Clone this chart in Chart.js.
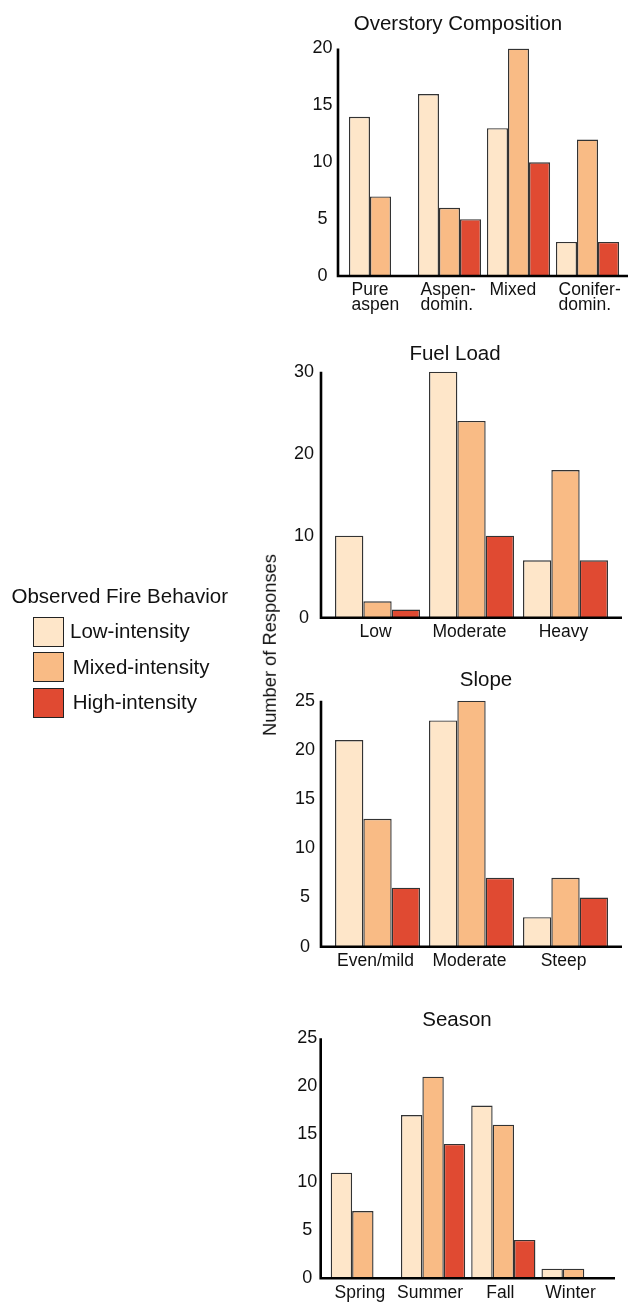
<!DOCTYPE html>
<html>
<head>
<meta charset="utf-8">
<script src="https://cdn.jsdelivr.net/npm/chart.js@4.4.1/dist/chart.umd.min.js"></script>
<style>
  html, body { margin: 0; padding: 0; background: #fff; }
  body {
    width: 628px; height: 1302px; position: relative; overflow: hidden;
    font-family: "Liberation Sans", Arial, Helvetica, sans-serif; color: #111;
  }
  .panel { position: absolute; left: 0; width: 628px; }
  .panel canvas { display: block; }
  .txt { position: absolute; white-space: nowrap; line-height: 1; }
  .swatch { position: absolute; width: 31px; height: 30px; box-sizing: border-box; border: 1.6px solid #222; }
  #ytitle { font-size: 18.3px; line-height: 18.3px; transform: translate(-50%, -50%) rotate(-90deg); }
</style>
</head>
<body>
<div class="panel" id="p1"><canvas id="overstoryChart"></canvas></div>
<div class="panel" id="p2"><canvas id="fuelChart"></canvas></div>
<div class="panel" id="p3"><canvas id="slopeChart"></canvas></div>
<div class="panel" id="p4"><canvas id="seasonChart"></canvas></div>
<div id="legend"></div>
<div class="txt" id="ytitle" style="left:270px; top:645px;">Number of Responses</div>

<script>
// 系列（観察された火災の挙動）
const seriesNames = ["Low-intensity", "Mixed-intensity", "High-intensity"];
const seriesColors = ["#FEE6C9", "#F9BB85", "#E04A32"];

// 上層木の構成
const overstoryLabels = [["Pure", "aspen"], ["Aspen-", "domin."], "Mixed", ["Conifer-", "domin."]];
const overstoryLow = [14, 16, 13, 3];
const overstoryMixed = [7, 6, 20, 12];
const overstoryHigh = [null, 5, 10, 3];
const overstoryTicks = [0, 5, 10, 15, 20];

// 燃料量
const fuelLabels = ["Low", "Moderate", "Heavy"];
const fuelLow = [10, 30, 7];
const fuelMixed = [2, 24, 18];
const fuelHigh = [1, 10, 7];
const fuelTicks = [0, 10, 20, 30];

// 傾斜
const slopeLabels = ["Even/mild", "Moderate", "Steep"];
const slopeLow = [21, 23, 3];
const slopeMixed = [13, 25, 7];
const slopeHigh = [6, 7, 5];
const slopeTicks = [0, 5, 10, 15, 20, 25];

// 季節
const seasonLabels = ["Spring", "Summer", "Fall", "Winter"];
const seasonLow = [11, 17, 18, 1];
const seasonMixed = [7, 21, 16, 1];
const seasonHigh = [null, 14, 4, null];
const seasonTicks = [0, 5, 10, 15, 20, 25];

const FONT = '"Liberation Sans", Arial, Helvetica, sans-serif';
Chart.defaults.font.family = FONT;
Chart.defaults.color = "#111";

// タイトルと軸線（軸線はプロット領域より少し左に出す）
const panelDecor = {
  id: "panelDecor",
  afterDraw(chart, args, opts) {
    const { ctx, chartArea } = chart;
    ctx.save();
    ctx.fillStyle = "#111";
    ctx.font = "20.5px " + FONT;
    ctx.textAlign = "center";
    ctx.textBaseline = "middle";
    ctx.fillText(opts.title, opts.titleX, opts.titleY);

    ctx.strokeStyle = "#000";
    ctx.lineWidth = 2.6;
    ctx.lineJoin = "miter";
    ctx.beginPath();
    ctx.moveTo(opts.axisX, chartArea.top);
    ctx.lineTo(opts.axisX, chartArea.bottom);
    ctx.lineTo(opts.axisRight, chartArea.bottom);
    ctx.stroke();
    ctx.restore();
  },
};

const Y_WIDTH = 40;

function drawPanel(id, title, labels, low, mixed, high, ticks, box) {
  const canvas = document.getElementById(id);
  canvas.parentNode.style.top = box.top + "px";
  canvas.width = 628;
  canvas.height = box.height;
  const values = [low, mixed, high];

  new Chart(canvas, {
    type: "bar",
    data: {
      labels: labels,
      datasets: seriesNames.map((name, i) => ({
        label: name,
        data: values[i],
        backgroundColor: seriesColors[i],
        borderColor: "#333",
        borderWidth: 1.4,
        borderSkipped: "start",
        categoryPercentage: box.catPct,
        barPercentage: 1,
      })),
    },
    options: {
      responsive: false,
      animation: false,
      events: [],
      layout: {
        padding: {
          top: box.plotTop,
          bottom: 0,
          left: box.plotLeft - Y_WIDTH,
          right: 628 - box.plotRight,
        },
      },
      plugins: {
        legend: { display: false },
        tooltip: { enabled: false },
        panelDecor: {
          title: title,
          titleX: box.titleX,
          titleY: box.titleY,
          axisX: box.axisX,
          axisRight: box.axisRight,
        },
      },
      scales: {
        x: {
          grid: { display: false, drawTicks: false },
          border: { display: false },
          ticks: {
            font: { size: 17.5, lineHeight: "15px" },
            padding: 7,
            align: box.labelAlign || "center",
            labelOffset: box.labelOffset || 0,
            maxRotation: 0,
            autoSkip: false,
          },
          afterFit: (s) => {
            s.height = box.height - box.plotBottom;
            // ラベルのはみ出しでプロット幅を縮めない
            s.paddingLeft = 0;
            s.paddingRight = 0;
          },
        },
        y: {
          min: 0,
          max: ticks[ticks.length - 1],
          grid: { display: false, drawTicks: false },
          border: { display: false },
          ticks: {
            stepSize: ticks[1] - ticks[0],
            font: { size: 18 },
            padding: box.tickPad,
            crossAlign: "center",
          },
          afterFit: (s) => { s.width = Y_WIDTH; },
        },
      },
    },
    plugins: [panelDecor],
  });
}

drawPanel("overstoryChart", "Overstory Composition", overstoryLabels,
  overstoryLow, overstoryMixed, overstoryHigh, overstoryTicks,
  { top: 0, height: 316, plotTop: 48.5, plotBottom: 276, plotLeft: 346, plotRight: 622,
    catPct: 0.915, tickPad: 13.5, titleX: 458, titleY: 24.3, axisX: 338, axisRight: 628,
    labelAlign: "start", labelOffset: -29 });

drawPanel("fuelChart", "Fuel Load", fuelLabels,
  fuelLow, fuelMixed, fuelHigh, fuelTicks,
  { top: 330, height: 323, plotTop: 41.7, plotBottom: 287.7, plotLeft: 330.5, plotRight: 612.5,
    catPct: 0.904, tickPad: 16.5, titleX: 455, titleY: 24, axisX: 321, axisRight: 622,
    labelOffset: -2 });

drawPanel("slopeChart", "Slope", slopeLabels,
  slopeLow, slopeMixed, slopeHigh, slopeTicks,
  { top: 655, height: 327, plotTop: 45.7, plotBottom: 291.7, plotLeft: 330.5, plotRight: 612.5,
    catPct: 0.904, tickPad: 15.5, titleX: 486, titleY: 25.8, axisX: 321, axisRight: 622,
    labelOffset: -2 });

drawPanel("seasonChart", "Season", seasonLabels,
  seasonLow, seasonMixed, seasonHigh, seasonTicks,
  { top: 990, height: 312, plotTop: 48.3, plotBottom: 288.3, plotLeft: 327.7, plotRight: 608.7,
    catPct: 0.914, tickPad: 10.5, titleX: 457, titleY: 30.3, axisX: 320.7, axisRight: 615,
    labelOffset: -3 });

// 凡例
const legend = document.getElementById("legend");
const legendTitle = document.createElement("div");
legendTitle.className = "txt";
legendTitle.style.cssText = "left:11.5px; top:586px; font-size:20.5px;";
legendTitle.textContent = "Observed Fire Behavior";
legend.appendChild(legendTitle);

seriesNames.forEach((name, i) => {
  const sw = document.createElement("div");
  sw.className = "swatch";
  sw.style.left = "33.3px";
  sw.style.top = (617.3 + i * 35.1) + "px";
  sw.style.background = seriesColors[i];
  legend.appendChild(sw);

  const t = document.createElement("div");
  t.className = "txt";
  t.style.left = (i === 0 ? 70 : 72.7) + "px";
  t.style.top = (621 + i * 35.5) + "px";
  t.style.fontSize = "20.5px";
  t.textContent = name;
  legend.appendChild(t);
});
</script>
</body>
</html>
